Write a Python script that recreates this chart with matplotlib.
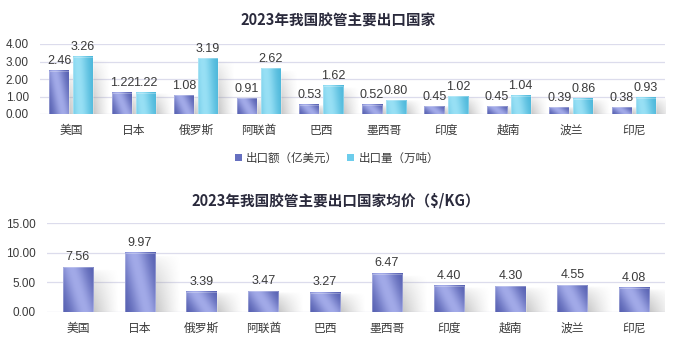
import numpy as np
import matplotlib
matplotlib.use("Agg")
import matplotlib.pyplot as plt
from matplotlib.patches import Rectangle

plt.rcParams['font.family'] = ['Noto Sans CJK SC', 'DejaVu Sans']

countries = ['美国', '日本', '俄罗斯', '阿联酋', '巴西', '墨西哥', '印度', '越南', '波兰', '印尼']
export_value = [2.46, 1.22, 1.08, 0.91, 0.53, 0.52, 0.45, 0.45, 0.39, 0.38]
export_volume = [3.26, 1.22, 3.19, 2.62, 1.62, 0.80, 1.02, 1.04, 0.86, 0.93]
avg_price = [7.56, 9.97, 3.39, 3.47, 3.27, 6.47, 4.40, 4.30, 4.55, 4.08]

title1 = '2023年我国胶管主要出口国家'
title2 = '2023年我国胶管主要出口国家均价（$/KG）'
legend_labels = ['出口额（亿美元）', '出口量（万吨）']

PURPLE_DARK = np.array([0x52, 0x5c, 0xae]) / 255
PURPLE_LIGHT = np.array([0xa2, 0xaa, 0xe8]) / 255
CYAN_DARK = np.array([0x46, 0xb4, 0xd8]) / 255
CYAN_LIGHT = np.array([0x98, 0xe0, 0xf5]) / 255
GRID = '#dcdcec'
TXT = '#3a3a3a'
NUMFONT = ['Liberation Sans', 'DejaVu Sans']


def purple_img(nx=40, ny=80):
    xs = np.linspace(0, 1, nx)[None, :]
    ys = np.linspace(0, 1, ny)[:, None]
    u = xs + 0.45 * (ys - 0.5)
    b = np.exp(-((u - 0.5) / 0.45) ** 2)
    b = np.clip(b, 0, 1)
    return PURPLE_DARK[None, None, :] * (1 - b[..., None]) + PURPLE_LIGHT[None, None, :] * b[..., None]


def cyan_img(nx=40, ny=80):
    xs = np.linspace(0, 1, nx)[None, :]
    ys = np.linspace(0, 1, ny)[:, None]
    u = xs + 0.15 * (ys - 0.5)
    b = np.exp(-((u - 0.3) / 0.5) ** 2)
    b = np.clip(b, 0, 1) * np.ones_like(ys)
    return CYAN_DARK[None, None, :] * (1 - b[..., None]) + CYAN_LIGHT[None, None, :] * b[..., None]


def shadow_img(nx=40, ny=60):
    xs = np.linspace(0, 1, nx)[None, :]
    ys = np.linspace(0, 1, ny)[:, None]
    ax_ = np.clip(1 - xs, 0, 1) ** 1.2
    ay_ = np.clip(1 - ys, 0, 1) ** 0.6
    a = 0.5 * ax_ * ay_
    img = np.zeros((ny, nx, 4))
    img[..., :3] = 0.55
    img[..., 3] = a
    return img


def draw_bar(ax, x, w, h, img, ymax):
    ax.imshow(img, extent=(x - w / 2, x + w / 2, 0, h),
              origin='lower', aspect='auto', zorder=3, interpolation='bilinear')
    ax.add_patch(Rectangle((x - w / 2, 0), w, h, fill=False, edgecolor='#ffffff',
                           linewidth=0.4, zorder=4, alpha=0.5))
    sw = w * 0.85
    sh = min(h * 0.95, ymax)
    ax.imshow(shadow_img(), extent=(x + w / 2, x + w / 2 + sw, 0, sh),
              origin='lower', aspect='auto', zorder=1, interpolation='bilinear')


fig = plt.figure(figsize=(6.97, 3.47), dpi=100)
P_IMG = purple_img()
C_IMG = cyan_img()

# Top chart
ax1 = fig.add_axes([40 / 697, 1 - 114 / 347, 625 / 697, 70 / 347])
n = len(countries)
x = np.arange(n)
bw = 0.32
off = 0.19
for i in range(n):
    draw_bar(ax1, x[i] - off, bw, export_value[i], P_IMG, 4)
    draw_bar(ax1, x[i] + off, bw, export_volume[i], C_IMG, 4)
    ax1.annotate(f'{export_value[i]:.2f}', (x[i] - off, export_value[i]), xytext=(0, 2.5),
                 textcoords='offset points', ha='center', va='bottom', fontsize=9, color=TXT,
                 family=NUMFONT)
    ax1.annotate(f'{export_volume[i]:.2f}', (x[i] + off, export_volume[i]), xytext=(0, 2.5),
                 textcoords='offset points', ha='center', va='bottom', fontsize=9, color=TXT,
                 family=NUMFONT)
ax1.set_xlim(-0.5, n - 0.5)
ax1.set_ylim(0, 4)
ax1.set_yticks([0, 1, 2, 3, 4])
ax1.set_yticklabels([f'{v:.2f}' for v in [0, 1, 2, 3, 4]], family=NUMFONT, fontsize=8.5)
ax1.set_xticks(x)
ax1.set_xticklabels(countries, fontsize=8.5)

# Bottom chart
ax2 = fig.add_axes([47 / 697, 1 - 312 / 347, 618 / 697, 89 / 347])
bw2 = 0.49
for i in range(n):
    draw_bar(ax2, x[i], bw2, avg_price[i], P_IMG, 15)
    ax2.annotate(f'{avg_price[i]:.2f}', (x[i], avg_price[i]), xytext=(0, 3),
                 textcoords='offset points', ha='center', va='bottom', fontsize=9, color=TXT,
                 family=NUMFONT)
ax2.set_xlim(-0.5, n - 0.5)
ax2.set_ylim(0, 15)
ax2.set_yticks([0, 5, 10, 15])
ax2.set_yticklabels([f'{v:.2f}' for v in [0, 5, 10, 15]], family=NUMFONT, fontsize=8.5)
ax2.set_xticks(x)
ax2.set_xticklabels(countries, fontsize=8.5)

for ax in (ax1, ax2):
    for s in ax.spines.values():
        s.set_visible(False)
    ax.tick_params(length=0, colors=TXT)
    ax.tick_params(axis='y', pad=8)
    ax.tick_params(axis='x', pad=7)
    ax.yaxis.grid(True, color=GRID, linewidth=0.9, zorder=0)
    ax.set_axisbelow(True)

fig.text(338 / 697, 1 - 21 / 347, title1, ha='center', va='center', fontsize=10.5,
         fontweight='bold', color='#2a2a3c')
fig.text(336 / 697, 1 - 200 / 347, title2, ha='center', va='center', fontsize=10.5,
         fontweight='bold', color='#2a2a3c')

# Legend
handles = [Rectangle((0, 0), 1, 1, facecolor='#6670c0', edgecolor='none'),
           Rectangle((0, 0), 1, 1, facecolor='#6dcdec', edgecolor='none')]
fig.legend(handles, legend_labels, loc='center', bbox_to_anchor=(337 / 697, 1 - 158 / 347),
           ncol=2, frameon=False, fontsize=8.3, handlelength=0.6, handleheight=0.6,
           handletextpad=0.4, columnspacing=0.8, labelcolor=TXT)

fig.savefig('out.png', dpi=100, facecolor='white')
